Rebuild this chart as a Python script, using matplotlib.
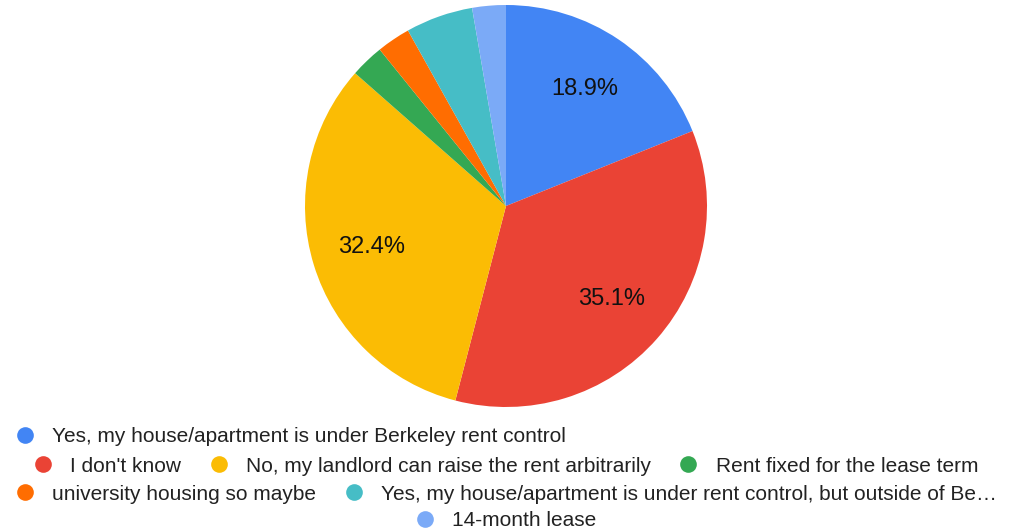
import matplotlib.pyplot as plt
from matplotlib.lines import Line2D

plt.rcParams['font.family'] = ['Liberation Sans', 'DejaVu Sans']

labels = [
    "Yes, my house/apartment is under Berkeley rent control",
    "I don't know",
    "No, my landlord can raise the rent arbitrarily",
    "Rent fixed for the lease term",
    "university housing so maybe",
    "Yes, my house/apartment is under rent control, but outside of Be\u2026",
    "14-month lease",
]
counts = [7, 13, 12, 1, 1, 2, 1]
colors = ['#4285F4', '#EA4335', '#FBBC04', '#34A853', '#FF6D01', '#46BDC6', '#7BAAF7']
legend_rows = [[0], [1, 2, 3], [4, 5], [6]]


def pct_label(p):
    # google only labels the bigger slices
    return f"{p:.1f}%" if p >= 10 else ""


fig = plt.figure(figsize=(10.11, 5.32), dpi=100)
ax = fig.add_axes([(506 - 201) / 1011, (532 - 206 - 201) / 532, 402 / 1011, 402 / 532])
wedges, texts, autotexts = ax.pie(counts, colors=colors, startangle=90, counterclock=False,
                                  autopct=pct_label, pctdistance=0.7,
                                  wedgeprops=dict(linewidth=0))
for t in autotexts:
    t.set_fontsize(17)
    t.set_color('#111111')
ax.set_xlim(-1, 1)
ax.set_ylim(-1, 1)
ax.set_aspect('equal')

row_y = [437, 466, 494, 521]
for i, row in enumerate(legend_rows):
    handles = [Line2D([], [], marker='o', linestyle='', markersize=12,
                      markerfacecolor=colors[k], markeredgewidth=0) for k in row]
    names = [labels[k] for k in row]
    if i == 0:
        loc, anchor = 'center left', (0.014, 1 - row_y[i] / 532)
    else:
        loc, anchor = 'center', (0.5, 1 - row_y[i] / 532)
    fig.legend(handles, names, loc=loc, bbox_to_anchor=anchor, ncol=len(row),
               frameon=False, fontsize=15, handlelength=1.0, handletextpad=0.8,
               columnspacing=1.3, borderpad=0, borderaxespad=0,
               labelcolor='#222222')

fig.savefig('out.png', dpi=100)
